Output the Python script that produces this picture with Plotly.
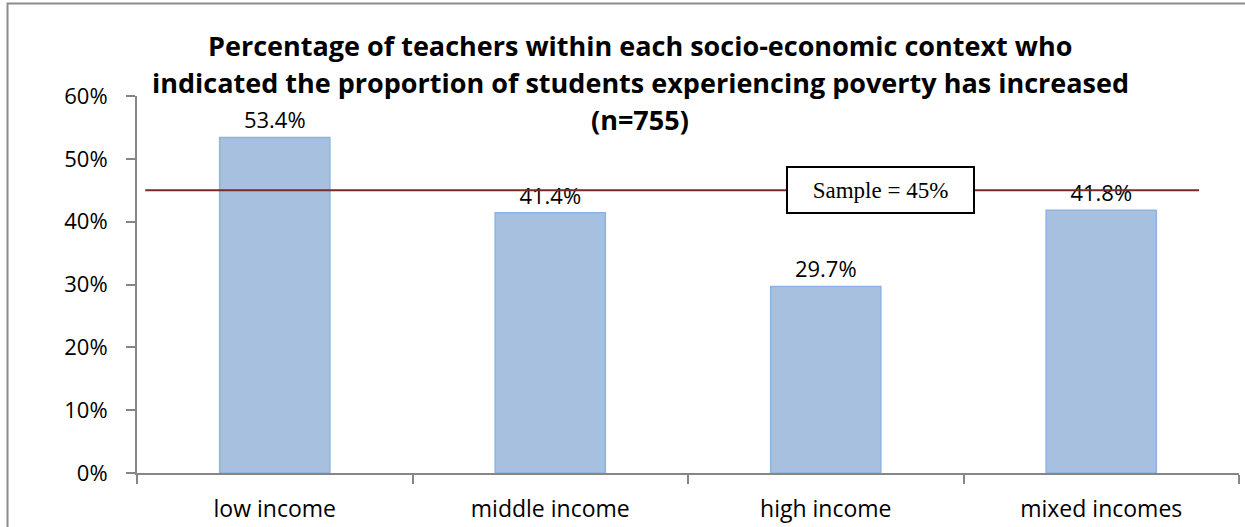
import plotly.graph_objects as go

categories = ["low income", "middle income", "high income", "mixed incomes"]
values = [0.534, 0.414, 0.297, 0.418]
value_labels = ["53.4%", "41.4%", "29.7%", "41.8%"]
sample_value = 0.45
sample_label = "Sample = 45%"
title_lines = [
    "Percentage of teachers within each socio-economic context who",
    "indicated the proportion of students experiencing poverty has increased",
    "(n=755)",
]
y_ticks = [0, 0.1, 0.2, 0.3, 0.4, 0.5, 0.6]
y_tick_labels = ["0%", "10%", "20%", "30%", "40%", "50%", "60%"]

FONT = "Open Sans"
AX = "#868686"

fig = go.Figure()
fig.add_trace(go.Bar(
    x=categories, y=values, width=0.4,
    marker=dict(color="#A7C0DF", line=dict(color="#8DB3E2", width=1.5)),
    text=value_labels, textposition="outside", cliponaxis=False,
    textfont=dict(family=FONT, size=22, color="#000000"),
    hoverinfo="skip",
))

fig.update_layout(
    width=1245, height=527,
    margin=dict(l=137, r=6, t=96, b=54),
    paper_bgcolor="white", plot_bgcolor="white",
    showlegend=False,
    font=dict(family=FONT, size=22, color="#000000"),
    bargap=0.6,
)
fig.update_xaxes(
    range=[-0.5, 3.5], showline=True, linecolor=AX, linewidth=2,
    ticks="outside", tickson="boundaries", ticklen=9, tickcolor=AX, tickwidth=2,
    ticklabelstandoff=14, showgrid=False, zeroline=False, automargin=False,
    tickfont=dict(family=FONT, size=23, color="#000000"),
)
fig.update_yaxes(
    range=[0, 0.6], tickvals=y_ticks, ticktext=y_tick_labels,
    showline=True, linecolor=AX, linewidth=2,
    ticks="outside", ticklen=9, tickcolor=AX, tickwidth=2,
    ticklabelstandoff=14, showgrid=False, zeroline=False, automargin=False,
    tickfont=dict(family=FONT, size=22, color="#000000"),
)

# outer chart border
fig.add_shape(type="rect", xref="paper", yref="paper",
              x0=-0.1175, x1=1.2, y0=-0.3, y1=1.2454,
              line=dict(color="#8C8C8C", width=2), layer="below")

# sample line
fig.add_shape(type="line", xref="x", yref="y",
              x0=-0.47, x1=3.355, y0=sample_value, y1=sample_value,
              line=dict(color="#772A2A", width=2))
fig.add_annotation(x=2.198, y=sample_value, xref="x", yref="y",
                   text=sample_label, showarrow=False,
                   font=dict(family="Liberation Serif", size=23, color="#000000"),
                   bgcolor="white", bordercolor="#000000", borderwidth=2,
                   width=183, height=42)

# title lines
title_y = [45, 82, 119]
for line, ypx in zip(title_lines, title_y):
    fig.add_annotation(x=(640 - 137) / 1102, y=(473 - ypx) / 377,
                       xref="paper", yref="paper", text="<b>" + line + "</b>",
                       showarrow=False, xanchor="center", yanchor="middle",
                       font=dict(family=FONT, size=27, color="#000000"))

fig.write_html("out.html")
